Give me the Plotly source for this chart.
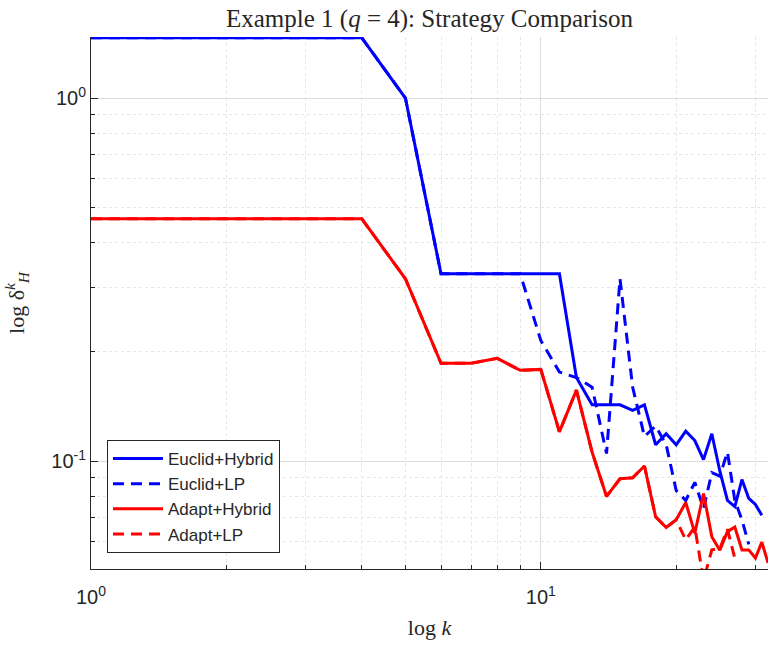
import plotly.graph_objects as go

k_eh = list(range(1, 32))
euclid_hybrid = [1.465, 1.465, 1.465, 1.465, 1.0, 0.328, 0.328, 0.328, 0.328, 0.328,
                 0.328, 0.170, 0.143, 0.143, 0.143, 0.138, 0.143, 0.111, 0.119, 0.111,
                 0.121, 0.114, 0.101, 0.119, 0.094, 0.078, 0.075, 0.089, 0.079, 0.076,
                 0.071]

k_el = list(range(1, 30))
euclid_lp = [1.465, 1.465, 1.465, 1.465, 1.0, 0.328, 0.328, 0.328, 0.328, 0.215,
             0.176, 0.170, 0.160, 0.105, 0.318, 0.160, 0.117, 0.125, 0.111, 0.083,
             0.078, 0.0875, 0.074, 0.093, 0.091, 0.106, 0.078, 0.069, 0.059]

k_ah = list(range(1, 33))
adapt_hybrid = [0.465, 0.465, 0.465, 0.465, 0.318, 0.186, 0.186, 0.192, 0.178, 0.179,
                0.1205, 0.157, 0.106, 0.080, 0.0895, 0.090, 0.097, 0.0703, 0.0657, 0.069,
                0.077, 0.0634, 0.0815, 0.062, 0.0569, 0.064, 0.0659, 0.057, 0.057, 0.0541,
                0.0599, 0.0525]

k_al = list(range(1, 28))
adapt_lp = [0.465, 0.465, 0.465, 0.465, 0.318, 0.186, 0.186, 0.192, 0.178, 0.179,
            0.1205, 0.157, 0.106, 0.080, 0.0895, 0.090, 0.097, 0.0703, 0.0657, 0.069,
            0.0607, 0.0659, 0.047, 0.057, 0.0575, 0.065, 0.054]

x_ticks = [1, 10]
x_ticktext = ["10<sup>0</sup>", "10<sup>1</sup>"]
x_minor = [2, 3, 4, 5, 6, 7, 8, 9, 20, 30]
y_ticks = [0.1, 1]
y_ticktext = ["10<sup>-1</sup>", "10<sup>0</sup>"]
y_minor = [0.06, 0.07, 0.08, 0.09, 0.2, 0.3, 0.4, 0.5, 0.6, 0.7, 0.8, 0.9]

BLUE = "#0000ff"
RED = "#ff0000"
AX = "#262626"
SERIF = "Liberation Serif, DejaVu Serif, serif"
SANS = "Liberation Sans, Arial, sans-serif"

fig = go.Figure()
fig.add_trace(go.Scatter(x=k_eh, y=euclid_hybrid, mode="lines", name="Euclid+Hybrid",
                         line=dict(color=BLUE, width=3)))
fig.add_trace(go.Scatter(x=k_el, y=euclid_lp, mode="lines", name="Euclid+LP",
                         line=dict(color=BLUE, width=3, dash="11px,7px")))
fig.add_trace(go.Scatter(x=k_ah, y=adapt_hybrid, mode="lines", name="Adapt+Hybrid",
                         line=dict(color=RED, width=3)))
fig.add_trace(go.Scatter(x=k_al, y=adapt_lp, mode="lines", name="Adapt+LP",
                         line=dict(color=RED, width=3, dash="11px,7px")))

axis_common = dict(
    type="log",
    showline=True, linecolor=AX, linewidth=1, mirror=False,
    ticks="inside", ticklen=7, tickcolor=AX, tickwidth=1,
    showgrid=True, gridcolor="#dcdcdc", gridwidth=1,
    zeroline=False,
    tickfont=dict(family=SANS, size=20, color=AX),
)

fig.update_xaxes(
    **axis_common,
    range=[0, 1.5051],
    tickmode="array", tickvals=x_ticks, ticktext=x_ticktext,
    ticklabelstandoff=10,
    minor=dict(tickmode="array", tickvals=x_minor, ticks="inside", ticklen=4,
               tickcolor=AX, showgrid=True, gridcolor="#e6e6e6", griddash="dot"),
    title=dict(text="log <i>k</i>", font=dict(family=SERIF, size=22, color=AX),
               standoff=12),
)
fig.update_yaxes(
    **axis_common,
    range=[-1.2967, 0.168],
    tickmode="array", tickvals=y_ticks, ticktext=y_ticktext,
    minor=dict(tickmode="array", tickvals=y_minor, ticks="inside", ticklen=4,
               tickcolor=AX, showgrid=True, gridcolor="#e6e6e6", griddash="dot"),
    title=dict(text="log δ<sup><i>k</i></sup><sub><i>H</i></sub>",
               font=dict(family=SERIF, size=22, color=AX), standoff=20),
)

fig.update_layout(
    width=776, height=668,
    margin=dict(l=91, r=8, t=37, b=99),
    paper_bgcolor="white", plot_bgcolor="white",
    title=dict(text="Example 1 (<i>q</i> = 4): Strategy Comparison",
               x=0.5, xref="paper", y=1 - 18 / 668, yref="container",
               xanchor="center", yanchor="middle",
               font=dict(family=SERIF, size=25, color=AX)),
    legend=dict(x=0.0236, y=0.03, xanchor="left", yanchor="bottom",
                bgcolor="white", bordercolor=AX, borderwidth=1,
                font=dict(family=SANS, size=17, color=AX),
                tracegroupgap=0, itemwidth=50),
    showlegend=True,
)

fig.write_html("out.html")
